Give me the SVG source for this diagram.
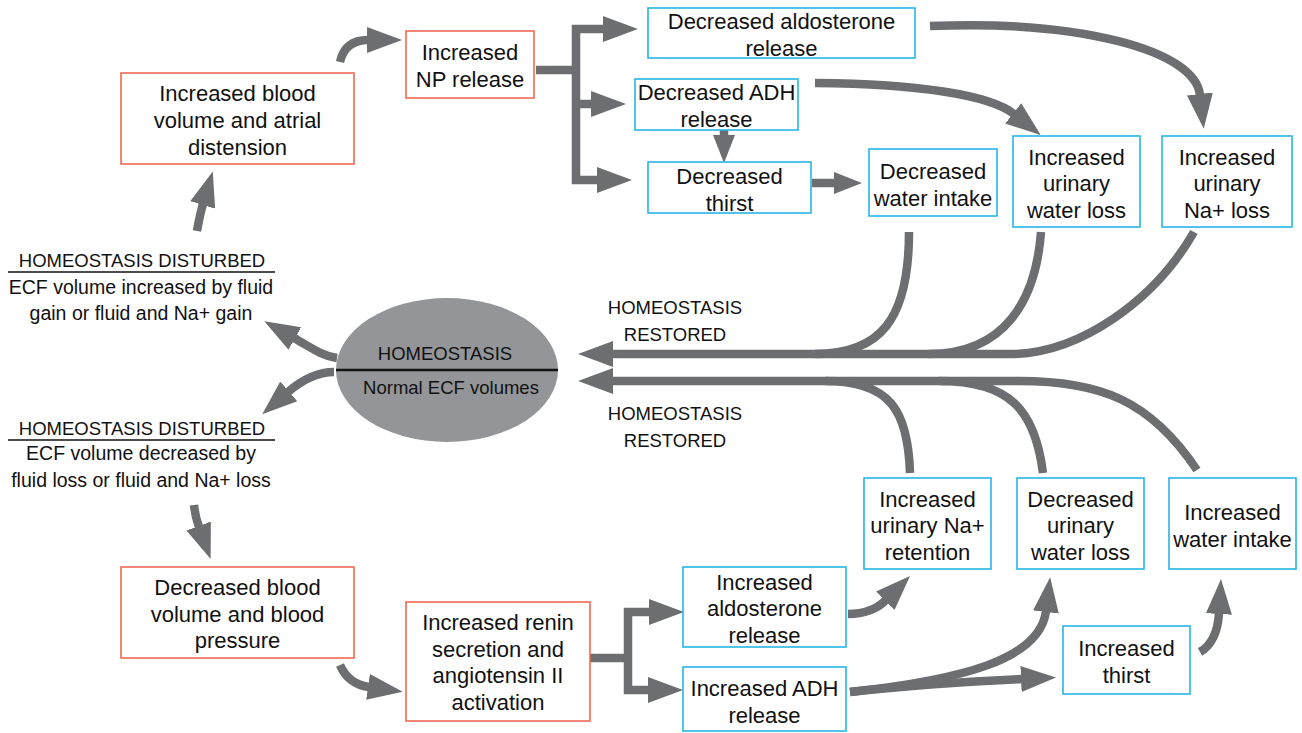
<svg xmlns="http://www.w3.org/2000/svg" width="1302" height="733" viewBox="0 0 1302 733">
<style>
.box{fill:#fff;stroke-width:1.6}
.red{stroke:#f06a52}
.blue{stroke:#27b4e6}
.t{font-family:"Liberation Sans",Arial,sans-serif;font-size:22px;fill:#111;text-anchor:middle}
.s{font-family:"Liberation Sans",Arial,sans-serif;font-size:18.5px;fill:#111;text-anchor:middle}
.sl{font-size:19.5px}
.c{fill:none;stroke:#6d6e71;stroke-width:8.5}
.ah{fill:#6d6e71}
</style>
<defs>
<marker id="ah" markerUnits="userSpaceOnUse" markerWidth="40" markerHeight="30" viewBox="0 -15 40 30" refX="1" refY="0" orient="auto-start-reverse"><path class="ah" d="M0,-13 L35,0 L0,13 z"/></marker>
<marker id="ahs" markerUnits="userSpaceOnUse" markerWidth="32" markerHeight="26" viewBox="0 -13 32 26" refX="1" refY="0" orient="auto-start-reverse"><path class="ah" d="M0,-11 L28,0 L0,11 z"/></marker>
</defs>
<rect width="1302" height="733" fill="#fff"/>
<g id="connectors">
<path class="c" d="M340,62 Q345,40 368,40" marker-end="url(#ah)"/>
<path class="c" d="M197,231 Q200,214 203,204" marker-end="url(#ah)"/>
<path class="c" d="M536,70 H576"/>
<path class="c" d="M598,180 H576 V29 H604" stroke-linejoin="miter" marker-start="url(#ah)" marker-end="url(#ah)"/>
<path class="c" d="M576,104 H592" marker-end="url(#ah)"/>
<path class="c" d="M930,26 C1080,20 1195,50 1200,95" marker-end="url(#ah)"/>
<path class="c" d="M815,83 C920,84 990,95 1014,114" marker-end="url(#ah)"/>
<path class="c" d="M724,130 V136" stroke-width="6" marker-end="url(#ahs)"/>
<path class="c" d="M812,183 H835" marker-end="url(#ahs)"/>
<path class="c" d="M1194,232 C1155,300 1080,354 1010,354 H612" marker-end="url(#ah)"/>
<path class="c" d="M1041,232 C1036,300 1005,354 929,354"/>
<path class="c" d="M909,232 C909,320 880,354 815,354"/>
<path class="c" d="M1197,470 C1150,400 1100,381 1019,381 H612" marker-end="url(#ah)"/>
<path class="c" d="M1043,473 C1035,410 1010,381 939,381"/>
<path class="c" d="M910,473 C908,410 890,381 825,381"/>
<path class="c" d="M337,358 C322,356 310,347 294,338" marker-end="url(#ah)"/>
<path class="c" d="M334,372 C318,372 302,380 288,392" marker-end="url(#ah)"/>
<path class="c" d="M194,505 Q195,516 199,527" marker-end="url(#ah)"/>
<path class="c" d="M340,665 Q348,684 369,687" marker-end="url(#ah)"/>
<path class="c" d="M590,658 H628"/>
<path class="c" d="M650,612 H628 V690 H649" stroke-linejoin="miter" marker-start="url(#ah)" marker-end="url(#ah)"/>
<path class="c" d="M848,614 C865,614 878,608 886,600" marker-end="url(#ah)"/>
<path class="c" d="M850,692 C960,680 1040,660 1046,611" marker-end="url(#ah)"/>
<path class="c" d="M850,692 C920,684 980,681 1022,679" marker-end="url(#ah)"/>
<path class="c" d="M1200,652 C1212,645 1218,630 1219,613" marker-end="url(#ah)"/>
</g>
<g id="n-homeostasis">
<ellipse cx="447" cy="370" rx="111" ry="72" fill="#939598"/>
<line x1="336" y1="370" x2="558" y2="370" stroke="#111" stroke-width="2.5"/>
<text class="s" x="445" y="359.5">HOMEOSTASIS</text>
<text class="s" x="451" y="393.5">Normal ECF volumes</text>
</g>
<g id="n-disturbed-up">
<text class="s" x="142" y="266.5">HOMEOSTASIS DISTURBED</text>
<line x1="8" y1="272" x2="275" y2="272" stroke="#111" stroke-width="1.3"/>
<text class="s sl" x="141" y="294">ECF volume increased by fluid</text>
<text class="s sl" x="141" y="320">gain or fluid and Na+ gain</text>
</g>
<g id="n-disturbed-down">
<text class="s" x="142" y="434.5">HOMEOSTASIS DISTURBED</text>
<line x1="8" y1="440" x2="275" y2="440" stroke="#111" stroke-width="1.3"/>
<text class="s sl" x="141" y="460">ECF volume decreased by</text>
<text class="s sl" x="141" y="487">fluid loss or fluid and Na+ loss</text>
</g>
<g id="n-restored-up">
<text class="s" x="675" y="313.5">HOMEOSTASIS</text>
<text class="s" x="675" y="340.5">RESTORED</text>
</g>
<g id="n-restored-down">
<text class="s" x="675" y="419.5">HOMEOSTASIS</text>
<text class="s" x="675" y="446.5">RESTORED</text>
</g>
<g id="n-blood-vol-up">
<rect class="box red" x="121" y="73" width="233" height="91"/>
<text class="t" x="237.5" y="101">Increased blood</text>
<text class="t" x="237.5" y="128">volume and atrial</text>
<text class="t" x="237.5" y="155">distension</text>
</g>
<g id="n-np">
<rect class="box red" x="406" y="31" width="128" height="67"/>
<text class="t" x="470" y="60">Increased</text>
<text class="t" x="470" y="87">NP release</text>
</g>
<g id="n-dec-aldo">
<rect class="box blue" x="648" y="8" width="267" height="50"/>
<text class="t" x="781.5" y="29">Decreased aldosterone</text>
<text class="t" x="781.5" y="56">release</text>
</g>
<g id="n-dec-adh">
<rect class="box blue" x="635" y="79" width="163" height="51"/>
<text class="t" x="716.5" y="100">Decreased ADH</text>
<text class="t" x="716.5" y="127">release</text>
</g>
<g id="n-dec-thirst">
<rect class="box blue" x="648" y="162" width="163" height="51"/>
<text class="t" x="729.5" y="184">Decreased</text>
<text class="t" x="729.5" y="211">thirst</text>
</g>
<g id="n-dec-water-intake">
<rect class="box blue" x="869" y="149" width="128" height="67"/>
<text class="t" x="933" y="179">Decreased</text>
<text class="t" x="933" y="206">water intake</text>
</g>
<g id="n-inc-water-loss">
<rect class="box blue" x="1013" y="136" width="127" height="91"/>
<text class="t" x="1076.5" y="165">Increased</text>
<text class="t" x="1076.5" y="191">urinary</text>
<text class="t" x="1076.5" y="218">water loss</text>
</g>
<g id="n-inc-na-loss">
<rect class="box blue" x="1162" y="136" width="130" height="91"/>
<text class="t" x="1227" y="165">Increased</text>
<text class="t" x="1227" y="191">urinary</text>
<text class="t" x="1227" y="218">Na+ loss</text>
</g>
<g id="n-blood-vol-down">
<rect class="box red" x="121" y="567" width="233" height="91"/>
<text class="t" x="237.5" y="595">Decreased blood</text>
<text class="t" x="237.5" y="622">volume and blood</text>
<text class="t" x="237.5" y="648">pressure</text>
</g>
<g id="n-renin">
<rect class="box red" x="406" y="602" width="184" height="119"/>
<text class="t" x="498" y="630">Increased renin</text>
<text class="t" x="498" y="657">secretion and</text>
<text class="t" x="498" y="683">angiotensin II</text>
<text class="t" x="498" y="710">activation</text>
</g>
<g id="n-inc-aldo">
<rect class="box blue" x="683" y="567" width="163" height="80"/>
<text class="t" x="764.5" y="590">Increased</text>
<text class="t" x="764.5" y="616">aldosterone</text>
<text class="t" x="764.5" y="643">release</text>
</g>
<g id="n-inc-adh">
<rect class="box blue" x="683" y="667" width="163" height="64"/>
<text class="t" x="764.5" y="696">Increased ADH</text>
<text class="t" x="764.5" y="723">release</text>
</g>
<g id="n-na-retention">
<rect class="box blue" x="864" y="478" width="127" height="91"/>
<text class="t" x="927.5" y="507">Increased</text>
<text class="t" x="927.5" y="533">urinary Na+</text>
<text class="t" x="927.5" y="560">retention</text>
</g>
<g id="n-dec-water-loss">
<rect class="box blue" x="1017" y="478" width="127" height="91"/>
<text class="t" x="1080.5" y="507">Decreased</text>
<text class="t" x="1080.5" y="533">urinary</text>
<text class="t" x="1080.5" y="560">water loss</text>
</g>
<g id="n-inc-water-intake">
<rect class="box blue" x="1169" y="478" width="127" height="91"/>
<text class="t" x="1232.5" y="520">Increased</text>
<text class="t" x="1232.5" y="547">water intake</text>
</g>
<g id="n-inc-thirst">
<rect class="box blue" x="1063" y="626" width="127" height="68"/>
<text class="t" x="1126.5" y="656">Increased</text>
<text class="t" x="1126.5" y="683">thirst</text>
</g>
</svg>
